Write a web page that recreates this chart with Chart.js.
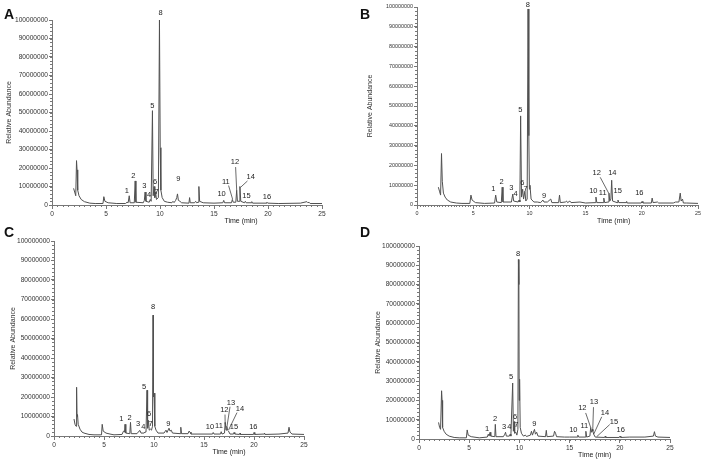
<!DOCTYPE html>
<html>
<head>
<meta charset="utf-8">
<script src="https://cdn.jsdelivr.net/npm/chart.js@4/dist/chart.umd.min.js"></script>
<style>
  body { margin: 0; background: #fff; }
  #wrap { position: relative; width: 703px; height: 461px; background: #fff; overflow: hidden; }
  canvas { position: absolute; }
  .tag { position: absolute; font: bold 14px Arial, "Liberation Sans", sans-serif; line-height: 14px; color: #111; }
</style>
</head>
<body>
<div id="wrap">
  <canvas id="chA" width="325" height="230" style="left:5px;top:0px"></canvas>
  <canvas id="chB" width="337" height="230" style="left:366px;top:0px"></canvas>
  <canvas id="chC" width="303" height="231" style="left:9px;top:230px"></canvas>
  <canvas id="chD" width="304" height="234" style="left:374px;top:230px"></canvas>
  <div class="tag" style="left:4px;top:7px">A</div>
  <div class="tag" style="left:360px;top:7px">B</div>
  <div class="tag" style="left:4px;top:225px">C</div>
  <div class="tag" style="left:360px;top:225px">D</div>
</div>
<script>
// retention time (min) and abundance for each chromatogram
var timeA = [2.0, 2.1, 2.2, 2.27, 2.32, 2.38, 2.5, 2.7, 3.0, 3.5, 4.0, 4.72, 4.8, 4.9, 5.2, 6.0, 6.8, 6.95, 7.05, 7.15,
  7.23, 7.62, 7.7, 7.77, 8.45, 8.55, 8.62, 8.7, 9.0, 9.1, 9.18, 9.3, 9.37, 9.45, 9.52, 9.6, 9.67, 9.85, 9.95, 10.02,
  10.08, 10.2, 10.4, 10.7, 11.1, 11.2, 11.3, 11.45, 11.55, 11.62, 11.7, 11.85, 12.0, 12.68, 12.74, 12.8, 13.2, 13.3, 13.4, 13.52,
  13.6, 13.67, 14.0, 15.0, 15.82, 15.9, 15.98, 16.62, 16.7, 16.78, 17.02, 17.1, 17.17, 17.32, 17.4, 17.48, 17.82, 17.9, 17.98, 18.45,
  18.5, 18.57, 19.82, 19.9, 19.98, 21.0, 23.0, 23.6, 23.7, 23.8, 23.9, 25.0];
var signalA = [9e6, 7e6, 5e6, 24e6, 19e6, 8e6, 5e6, 3e6, 1.8e6, 1.0e6, 0.8e6, 0.8e6, 4.5e6, 2e6, 1.2e6, 0.8e6, 0.8e6, 1.5e6, 1.2e6, 5e6,
  1.2e6, 1.2e6, 13e6, 1.5e6, 1.2e6, 2.5e6, 7e6, 2e6, 1.5e6, 3e6, 2e6, 51e6, 5e6, 10e6, 4e6, 7e6, 3e6, 4e6, 100e6, 31e6,
  8e6, 4e6, 2e6, 1.5e6, 1.2e6, 2e6, 1.3e6, 2.5e6, 4e6, 6e6, 2.5e6, 2e6, 1.2e6, 1e6, 4e6, 1.2e6, 1.2e6, 2e6, 1.2e6, 1.5e6,
  10e6, 2e6, 1.2e6, 1e6, 1.2e6, 2.5e6, 1.2e6, 1.2e6, 3e6, 1.5e6, 1.5e6, 8e6, 2e6, 2e6, 10e6, 2e6, 1.2e6, 2e6, 1.2e6, 1.2e6,
  1.8e6, 1e6, 1e6, 1.5e6, 1e6, 0.8e6, 1.0e6, 1.8e6, 1.2e6, 1.5e6, 0.8e6, 0.8e6];

var timeB = [1.9, 2.0, 2.1, 2.18, 2.25, 2.35, 2.5, 2.7, 3.0, 3.5, 4.0, 4.7, 4.8, 4.9, 5.2, 6.0, 6.9, 7.0, 7.1, 7.5,
  7.58, 7.65, 8.4, 8.52, 8.6, 9.0, 9.08, 9.15, 9.22, 9.3, 9.4, 9.48, 9.6, 9.68, 9.8, 9.88, 9.95, 10.0, 10.05, 10.15,
  10.4, 10.7, 11.0, 11.2, 11.3, 11.6, 11.9, 12.0, 12.6, 12.68, 12.75, 13.2, 13.3, 13.4, 13.6, 13.7, 14.5, 15.0, 15.85, 15.92,
  16.0, 16.55, 16.62, 16.7, 17.0, 17.08, 17.15, 17.25, 17.32, 17.4, 17.8, 17.88, 17.96, 18.6, 18.65, 18.7, 19.95, 20.02, 20.1, 20.85,
  20.92, 21.0, 21.4, 21.5, 22.8, 23.0, 23.3, 23.42, 23.5, 23.62, 23.7, 24.0, 25.0];
var signalB = [9e6, 7e6, 5e6, 26e6, 12e6, 6e6, 4e6, 2.5e6, 1.5e6, 1.0e6, 0.8e6, 0.8e6, 5e6, 2.5e6, 1.2e6, 0.8e6, 1e6, 5e6, 1.5e6, 1.2e6,
  9e6, 1.5e6, 1.5e6, 5.5e6, 2e6, 1.5e6, 2.5e6, 1.5e6, 45e6, 4e6, 8e6, 3e6, 7e6, 2e6, 3e6, 99e6, 35e6, 8e6, 10e6, 3e6,
  1.5e6, 1.5e6, 1.2e6, 2.5e6, 1.5e6, 1.5e6, 3e6, 1.2e6, 1.2e6, 5e6, 1.2e6, 1.5e6, 2e6, 1.2e6, 2e6, 1.2e6, 1.5e6, 1e6, 1.2e6, 4e6,
  1.2e6, 1.2e6, 3.5e6, 1.2e6, 1.5e6, 6e6, 2e6, 3e6, 12.5e6, 2e6, 1.2e6, 2.5e6, 1.2e6, 1.2e6, 1.8e6, 1e6, 1e6, 1.8e6, 1e6, 1e6,
  3.5e6, 1.2e6, 1.5e6, 1e6, 1e6, 1.5e6, 1.5e6, 6e6, 2e6, 3e6, 1e6, 1e6, 0.8e6];

var timeC = [2.0, 2.1, 2.2, 2.26, 2.3, 2.35, 2.42, 2.6, 2.8, 3.0, 3.5, 4.0, 4.75, 4.82, 4.92, 5.2, 5.6, 6.0, 6.8, 6.95,
  7.05, 7.1, 7.18, 7.58, 7.65, 7.72, 8.3, 8.5, 8.6, 8.7, 9.0, 9.1, 9.2, 9.3, 9.36, 9.45, 9.52, 9.65, 9.75, 9.85,
  9.9, 9.93, 9.97, 10.0, 10.08, 10.2, 10.4, 11.0, 11.2, 11.3, 11.5, 11.6, 11.72, 11.85, 12.6, 12.68, 12.75, 13.4, 13.5, 13.6,
  13.7, 15.0, 15.85, 15.92, 16.0, 16.65, 16.72, 16.8, 17.05, 17.12, 17.2, 17.28, 17.35, 17.45, 17.6, 17.95, 18.0, 18.08, 18.55, 18.6,
  18.65, 19.95, 20.0, 20.08, 21.0, 21.05, 21.1, 22.5, 23.4, 23.5, 23.6, 23.8, 25.0];
var signalC = [8.7e6, 6e6, 5e6, 25e6, 10e6, 11e6, 6e6, 3.5e6, 2e6, 1.5e6, 0.8e6, 0.6e6, 0.6e6, 6e6, 2.5e6, 1.5e6, 1e6, 0.6e6, 0.8e6, 2.5e6,
  2e6, 6e6, 1.5e6, 1.2e6, 7e6, 1.2e6, 1.2e6, 2.5e6, 2.8e6, 1.5e6, 1.5e6, 2e6, 2e6, 23.5e6, 4e6, 8e6, 3e6, 3.5e6, 3e6, 5e6,
  62e6, 54e6, 20e6, 22e6, 5e6, 3e6, 1.5e6, 1.5e6, 3e6, 1.8e6, 4e6, 2.5e6, 3e6, 1.5e6, 1.2e6, 4.5e6, 1.2e6, 1.2e6, 2.5e6, 2e6,
  1e6, 1e6, 1e6, 1.8e6, 1e6, 1e6, 2.2e6, 1e6, 1.5e6, 7e6, 3e6, 5e6, 3e6, 2.5e6, 1e6, 1e6, 1.8e6, 1e6, 0.8e6, 1.5e6,
  0.8e6, 0.8e6, 1.8e6, 0.8e6, 1e6, 1.5e6, 0.8e6, 1e6, 1.5e6, 4.5e6, 2e6, 1e6, 0.8e6];

var timeD = [1.95, 2.05, 2.15, 2.25, 2.3, 2.35, 2.5, 2.7, 3.0, 3.5, 4.0, 4.72, 4.8, 4.9, 5.2, 6.0, 6.8, 6.9, 6.98, 7.08,
  7.15, 7.55, 7.6, 7.67, 8.4, 8.55, 8.62, 8.7, 9.0, 9.08, 9.15, 9.33, 9.4, 9.47, 9.53, 9.65, 9.75, 9.85, 9.9, 9.95,
  9.98, 10.02, 10.08, 10.2, 10.4, 10.6, 10.7, 11.1, 11.2, 11.3, 11.5, 11.6, 11.72, 11.85, 12.6, 12.68, 12.75, 13.4, 13.5, 13.6,
  13.7, 14.5, 15.0, 15.75, 15.82, 15.9, 16.55, 16.62, 16.7, 17.02, 17.1, 17.18, 17.25, 17.32, 17.4, 17.55, 18.5, 18.55, 18.6, 19.95,
  20.02, 20.1, 21.0, 22.5, 23.35, 23.45, 23.55, 23.8, 25.0];
var signalD = [8.6e6, 6e6, 5e6, 25e6, 20e6, 6e6, 4e6, 2.5e6, 1.5e6, 0.8e6, 0.6e6, 0.6e6, 4.7e6, 2e6, 1.2e6, 0.6e6, 1e6, 2.5e6, 1.5e6, 3.5e6,
  1.5e6, 1.2e6, 7.6e6, 1.2e6, 1.2e6, 2.5e6, 3.5e6, 1.5e6, 1.5e6, 2.5e6, 1.5e6, 29e6, 4e6, 9e6, 3e6, 3.5e6, 2e6, 5e6, 93e6, 80e6,
  20e6, 31e6, 6e6, 3e6, 1.5e6, 2e6, 1.3e6, 2e6, 4e6, 2e6, 5e6, 2.5e6, 3.5e6, 1.5e6, 1.2e6, 4.5e6, 1.2e6, 1.5e6, 4e6, 3e6,
  1.2e6, 1e6, 1e6, 1e6, 2e6, 1e6, 1e6, 4e6, 1e6, 1.5e6, 6e6, 3.5e6, 5e6, 4e6, 2.5e6, 1e6, 0.8e6, 1.5e6, 0.8e6, 0.8e6,
  1.5e6, 0.8e6, 1e6, 1e6, 1.5e6, 3.8e6, 1.5e6, 1e6, 0.8e6];

// peak numbers: [label, time, abundance] where the number is written
var peaksA = [['1', 6.94, 7.6e6], ['2', 7.53, 15.7e6], ['3', 8.55, 10.3e6], ['4', 9.0, 5.6e6], ['5', 9.29, 53.5e6],
  ['6', 9.54, 12.3e6], ['7', 9.69, 6.9e6], ['8', 10.06, 103.6e6], ['9', 11.7, 13.9e6], ['10', 15.7, 5.8e6],
  ['11', 16.1, 12.6e6], ['12', 16.94, 23.1e6], ['14', 18.4, 15.3e6], ['15', 18.0, 5.0e6], ['16', 19.9, 4.3e6]];
var peaksB = [['1', 6.79, 7.9e6], ['2', 7.53, 11.8e6], ['3', 8.39, 8.4e6], ['4', 8.78, 5.6e6], ['5', 9.19, 48e6],
  ['6', 9.37, 11.3e6], ['7', 9.67, 8.1e6], ['8', 9.85, 101e6], ['9', 11.3, 4.5e6], ['10', 15.69, 7.2e6],
  ['11', 16.52, 6.2e6], ['12', 15.99, 16e6], ['14', 17.38, 16e6], ['15', 17.86, 7e6], ['16', 19.78, 6.2e6]];
var peaksC = [['1', 6.73, 8.7e6], ['2', 7.57, 9.4e6], ['3', 8.4, 6.2e6], ['4', 8.93, 4.4e6], ['5', 9.0, 25e6],
  ['6', 9.5, 11.1e6], ['7', 9.67, 6e6], ['8', 9.9, 66e6], ['9', 11.43, 6.2e6], ['10', 15.6, 4.8e6],
  ['11', 16.5, 5.1e6], ['12', 17.03, 13.3e6], ['13', 17.7, 17e6], ['14', 18.6, 13.7e6], ['15', 18.0, 4.8e6], ['16', 19.93, 4.8e6]];
var peaksD = [['1', 6.77, 5.2e6], ['2', 7.57, 10.5e6], ['3', 8.47, 6.4e6], ['4', 8.99, 6.4e6], ['5', 9.16, 32e6],
  ['6', 9.56, 11.6e6], ['7', 9.69, 7.3e6], ['8', 9.86, 96e6], ['9', 11.49, 7.8e6], ['10', 15.37, 4.7e6],
  ['11', 16.47, 6.9e6], ['12', 16.27, 15.9e6], ['13', 17.43, 19e6], ['14', 18.53, 13.3e6], ['15', 19.42, 9e6], ['16', 20.09, 4.7e6]];

// leader lines from a number down to its peak: [t1, v1, t2, v2]
var leadsA = [[16.35, 10.5e6, 16.72, 3.2e6], [17.0, 20.5e6, 17.1, 8e6], [18.1, 13e6, 17.45, 9.5e6]];
var leadsB = [[16.3, 14e6, 17.05, 6e6]];
var leadsC = [[17.1, 11e6, 17.12, 6e6], [17.6, 15e6, 17.3, 5e6], [18.3, 12e6, 17.45, 3e6]];
var leadsD = [[16.6, 13.5e6, 17.1, 6e6], [17.38, 16.5e6, 17.3, 4e6], [18.2, 11.5e6, 17.4, 2.5e6], [19.0, 7.5e6, 17.7, 1.2e6]];

var FONT = 'Arial, "Liberation Sans", sans-serif';

function makePanel(id, times, signal, peaks, leads, tickSize, minorStep, yWidth, padTop, padRight) {
  var points = times.map(function (t, i) { return { x: t, y: signal[i] }; });

  var extras = {
    id: 'extras' + id,
    afterDraw: function (chart) {
      var ctx = chart.ctx, xs = chart.scales.x, ys = chart.scales.y, area = chart.chartArea;
      ctx.save();
      // minor ticks
      ctx.strokeStyle = '#777';
      ctx.lineWidth = 1;
      ctx.beginPath();
      for (var t = 0; t <= 25.001; t += minorStep) {
        var px = Math.round(xs.getPixelForValue(t)) + 0.5;
        ctx.moveTo(px, area.bottom);
        ctx.lineTo(px, area.bottom + 2);
      }
      for (var v = 0; v <= 100e6; v += 2e6) {
        var py = Math.round(ys.getPixelForValue(v)) + 0.5;
        ctx.moveTo(area.left - 2, py);
        ctx.lineTo(area.left, py);
      }
      ctx.stroke();

      ctx.strokeStyle = '#444';
      ctx.lineWidth = 0.8;
      leads.forEach(function (l) {
        ctx.beginPath();
        ctx.moveTo(xs.getPixelForValue(l[0]), ys.getPixelForValue(l[1]));
        ctx.lineTo(xs.getPixelForValue(l[2]), ys.getPixelForValue(l[3]));
        ctx.stroke();
      });

      ctx.fillStyle = '#222';
      ctx.textAlign = 'center';
      ctx.textBaseline = 'middle';
      ctx.font = '7.5px ' + FONT;
      peaks.forEach(function (p) {
        ctx.fillText(p[0], xs.getPixelForValue(p[1]), ys.getPixelForValue(p[2]));
      });

      ctx.font = '7px ' + FONT;
      ctx.fillText('Time (min)', xs.getPixelForValue(17.5), area.bottom + 16);
      ctx.restore();
    }
  };

  return new Chart(document.getElementById(id), {
    type: 'line',
    data: {
      datasets: [{
        data: points,
        borderColor: '#505050',
        borderWidth: 1,
        pointRadius: 0,
        tension: 0
      }]
    },
    options: {
      responsive: false,
      animation: false,
      devicePixelRatio: 1,
      layout: { padding: { top: padTop, right: padRight, left: 0, bottom: 0 } },
      plugins: { legend: { display: false }, tooltip: { enabled: false } },
      scales: {
        x: {
          type: 'linear',
          min: 0,
          max: 25,
          ticks: { stepSize: 5, color: '#333', font: { size: tickSize, family: FONT }, padding: 1, maxRotation: 0 },
          grid: { drawOnChartArea: false, tickLength: 4, color: '#777' },
          border: { color: '#777' },
          afterFit: function (s) { s.height = 25; }
        },
        y: {
          min: 0,
          max: 100e6,
          ticks: {
            stepSize: 10e6, color: '#333', font: { size: tickSize, family: FONT }, padding: 1,
            callback: function (v) { return String(Math.round(v)); }
          },
          grid: { drawOnChartArea: false, tickLength: 3, color: '#777' },
          border: { color: '#777' },
          title: { display: true, text: 'Relative Abundance', color: '#333', font: { size: 7, family: FONT }, padding: 0 },
          afterFit: function (s) { s.width = yWidth; }
        }
      }
    },
    plugins: [extras]
  });
}

makePanel('chA', timeA, signalA, peaksA, leadsA, 6.6, 0.5, 47, 20, 8);
makePanel('chB', timeB, signalB, peaksB, leadsB, 5.4, 0.25, 51, 7, 5);
makePanel('chC', timeC, signalC, peaksC, leadsC, 6.6, 0.5, 45, 11, 8);
makePanel('chD', timeD, signalD, peaksD, leadsD, 6.6, 0.5, 45, 16, 8);
</script>
</body>
</html>
